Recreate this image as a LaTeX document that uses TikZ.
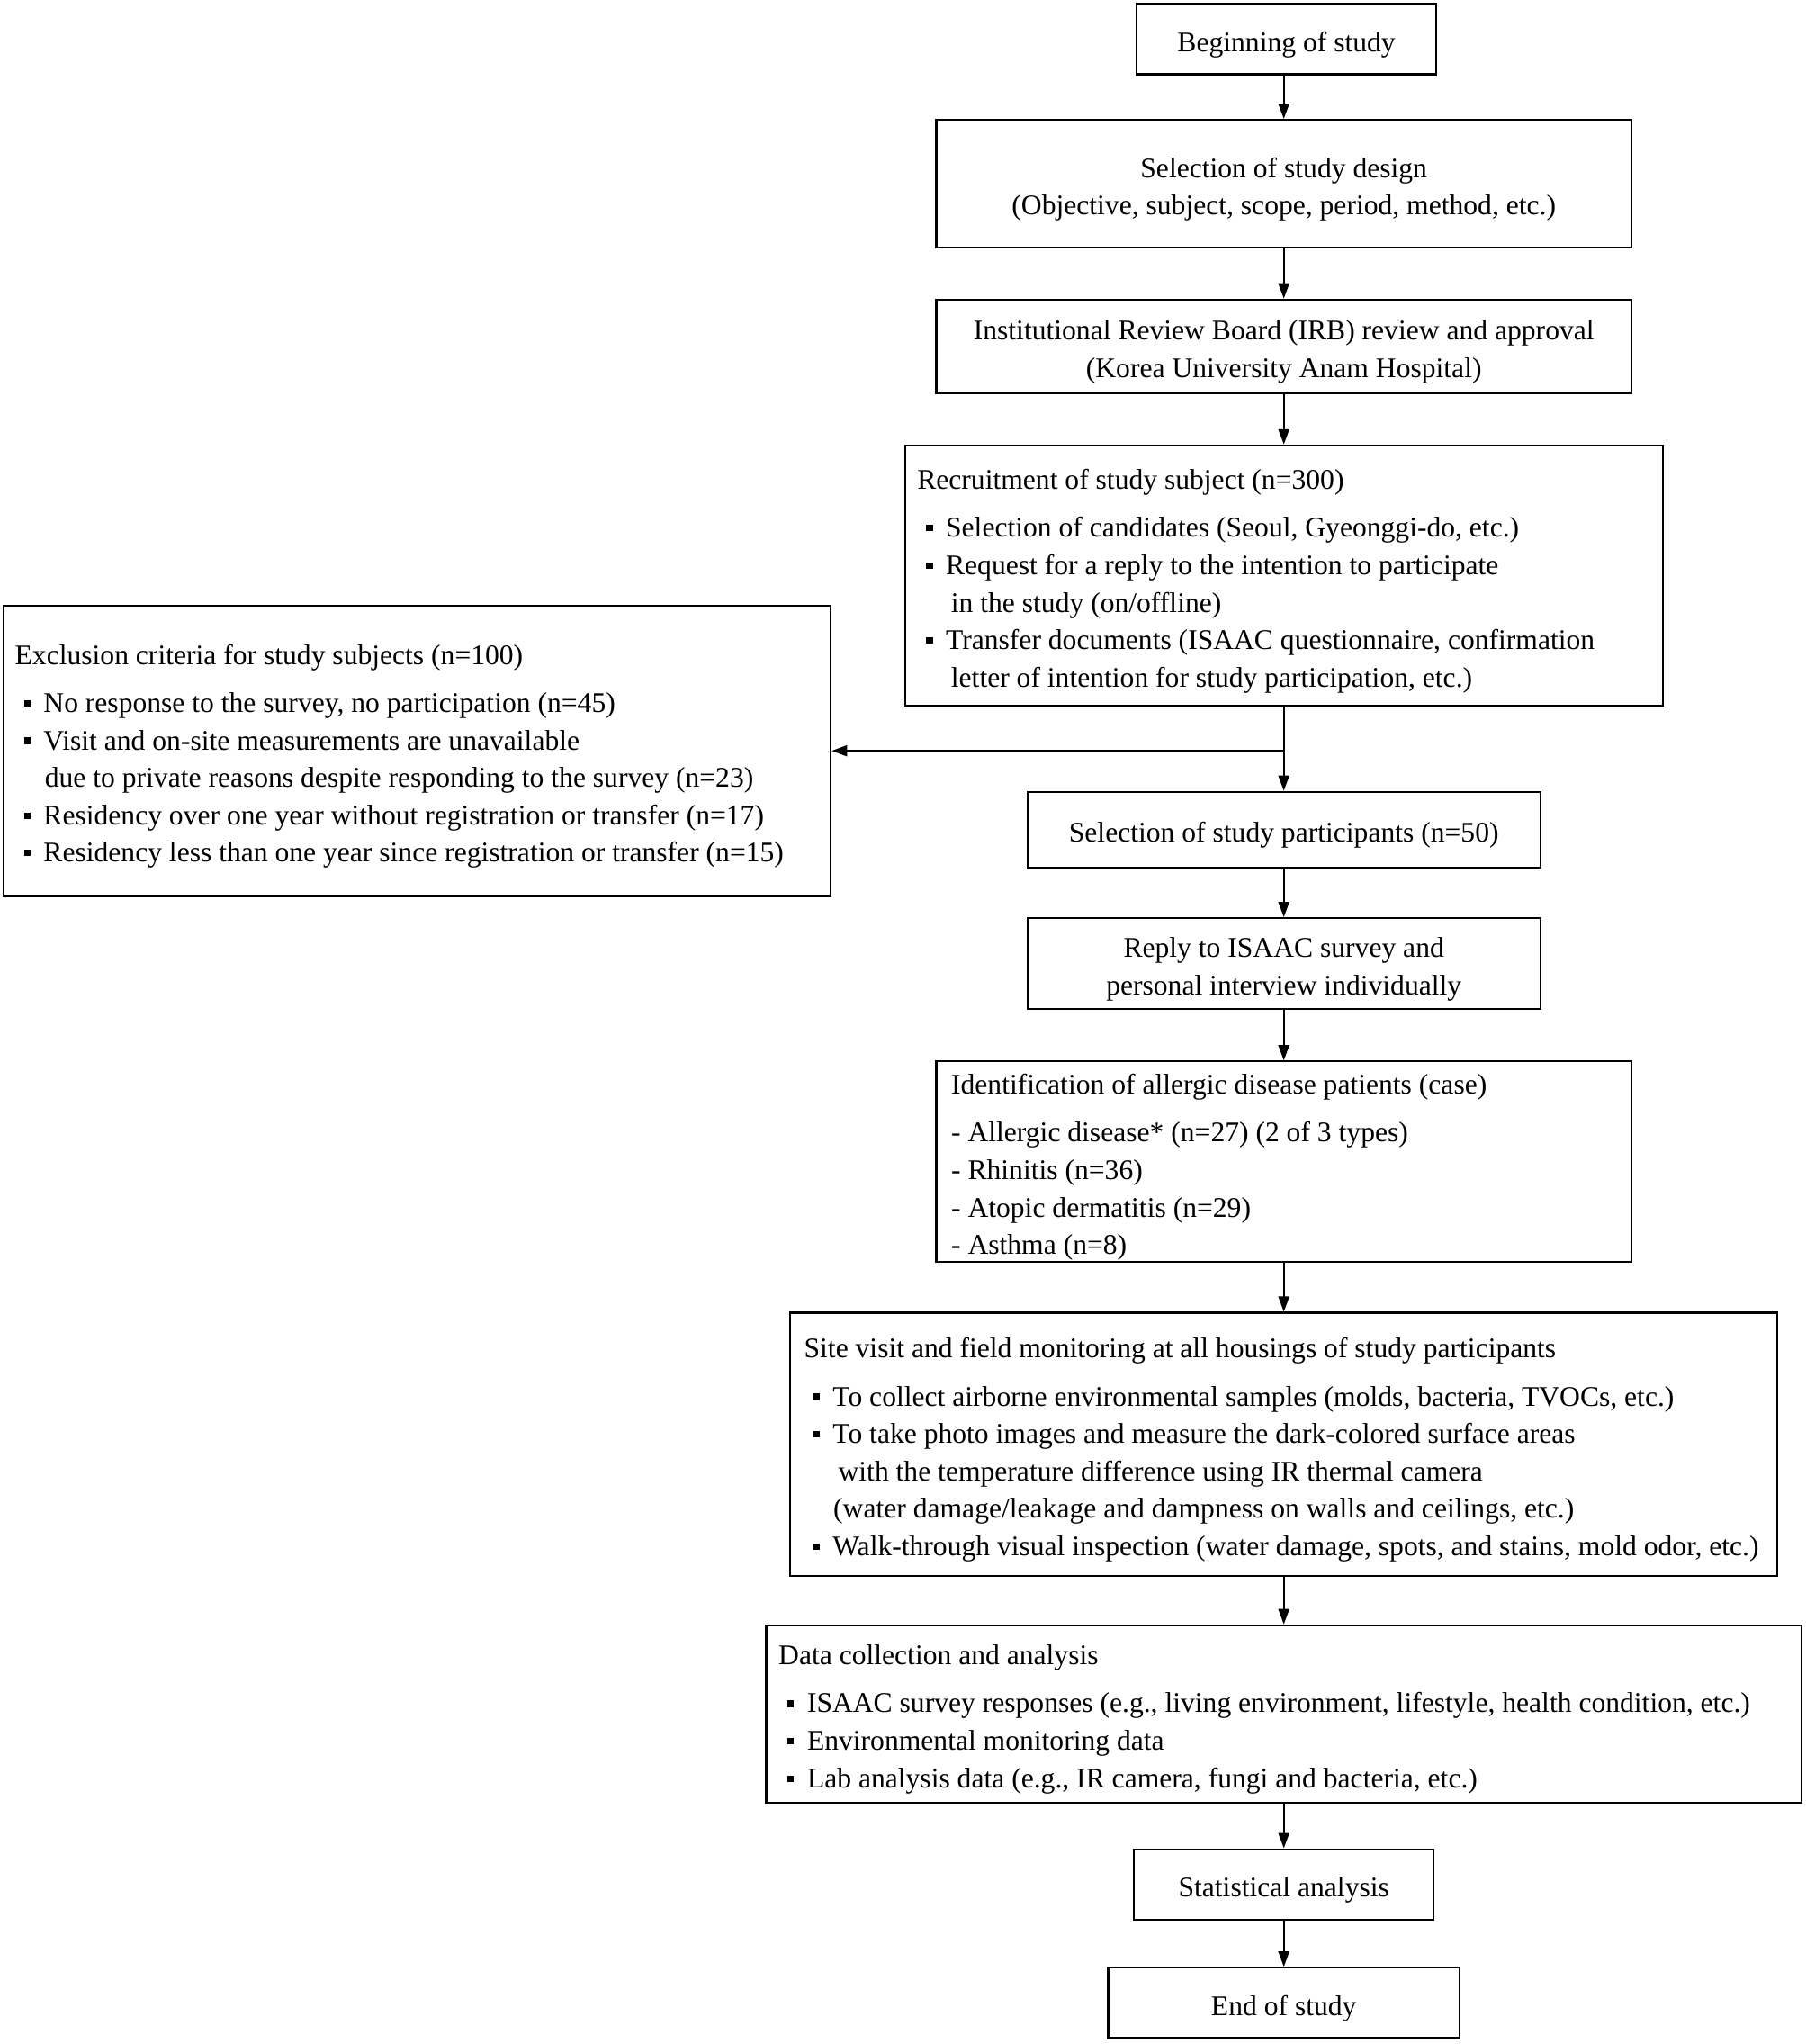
\documentclass[tikz,border=0pt]{standalone}
\usepackage{fontspec}
\setmainfont{Liberation Serif}
\usetikzlibrary{arrows.meta}
\newcommand{\blt}{\hspace*{5pt}\rule[3.2pt]{3.6pt}{3.6pt}\hspace*{7.3pt}}
\newcommand{\cnt}[1]{\hspace*{#1}}
\begin{document}
\begin{tikzpicture}[x=0.7235pt,y=-0.7235pt,
  box/.style={draw, line width=1.1pt, inner sep=0pt},
  ctxt/.style={inner sep=0pt, align=center, yshift=-3.1pt,
    font=\fontsize{15.8}{20.8}\selectfont},
  txt/.style={inner sep=0pt, align=left, anchor=west, yshift=-3.1pt,
    font=\fontsize{15.8}{20.8}\selectfont},
  arr/.style={line width=1.1pt, -{Triangle[length=8.5pt,width=6pt]}}]
\useasboundingbox (0,0) rectangle (1387,1569.5);

\node[box, minimum width=166.4pt, minimum height=39.1pt] (begin) at (988,30) {};
\node[ctxt] (beginT) at (begin.center) {Beginning of study};
\node[box, minimum width=386.3pt, minimum height=70.9pt] (design) at (986,141) {};
\node[ctxt] (designT) at (design.center)
  {Selection of study design\\(Objective, subject, scope, period, method, etc.)};
\node[box, minimum width=386.3pt, minimum height=52.1pt] (irb) at (986,266) {};
\node[ctxt] (irbT) at (irb.center)
  {Institutional Review Board (IRB) review and approval\\(Korea University Anam Hospital)};
\node[box, minimum width=421.1pt, minimum height=144.7pt] (recr) at (986,442) {};
\node[txt] (recrT) at ([xshift=7.2pt]recr.west) {Recruitment of study subject (n=300)\\[5.8pt]
\blt Selection of candidates (Seoul, Gyeonggi-do, etc.)\\
\blt Request for a reply to the intention to participate\\
\cnt{18.8pt}in the study (on/offline)\\
\blt Transfer documents (ISAAC questionnaire, confirmation\\
\cnt{18.8pt}letter of intention for study participation, etc.)};

\node[box, minimum width=459.4pt, minimum height=161.3pt] (excl) at (320.5,576.5) {};
\node[txt] (exclT) at ([xshift=6.5pt]excl.west) {Exclusion criteria for study subjects (n=100)\\[5.8pt]
\blt No response to the survey, no participation (n=45)\\
\blt Visit and on-site measurements are unavailable\\
\cnt{16.6pt}due to private reasons despite responding to the survey (n=23)\\
\blt Residency over one year without registration or transfer (n=17)\\
\blt Residency less than one year since registration or transfer (n=15)};

\node[box, minimum width=285.1pt, minimum height=42pt] (part) at (986,637) {};
\node[ctxt] (partT) at (part.center) {Selection of study participants (n=50)};
\node[box, minimum width=285.1pt, minimum height=50.6pt] (reply) at (986,740) {};
\node[ctxt] (replyT) at (reply.center)
  {Reply to ISAAC survey and\\personal interview individually};

\node[box, minimum width=386.3pt, minimum height=111.4pt] (ident) at (986,892) {};
\node[txt] (identT) at ([xshift=8.7pt]ident.west) {Identification of allergic disease patients (case)\\[5.8pt]
- Allergic disease* (n=27) (2 of 3 types)\\
- Rhinitis (n=36)\\
- Atopic dermatitis (n=29)\\
- Asthma (n=8)};

\node[box, minimum width=548.4pt, minimum height=146.1pt] (site) at (986,1109) {};
\node[txt] (siteT) at ([xshift=8pt]site.west) {Site visit and field monitoring at all housings of study participants\\[5.8pt]
\blt To collect airborne environmental samples (molds, bacteria, TVOCs, etc.)\\
\blt To take photo images and measure the dark-colored surface areas\\
\cnt{19pt}with the temperature difference using IR thermal camera\\
\cnt{16.3pt}(water damage/leakage and dampness on walls and ceilings, etc.)\\
\blt Walk-through visual inspection (water damage, spots, and stains, mold odor, etc.)};

\node[box, minimum width=575.2pt, minimum height=98.4pt] (data) at (986,1316) {};
\node[txt] (dataT) at ([xshift=7.2pt]data.west) {Data collection and analysis\\[5.8pt]
\blt ISAAC survey responses (e.g., living environment, lifestyle, health condition, etc.)\\
\blt Environmental monitoring data\\
\blt Lab analysis data (e.g., IR camera, fungi and bacteria, etc.)};

\node[box, minimum width=166.4pt, minimum height=39.1pt] (stat) at (986,1447) {};
\node[ctxt] (statT) at (stat.center) {Statistical analysis};
\node[box, minimum width=195.3pt, minimum height=39.1pt] (end) at (986,1538) {};
\node[ctxt] (endT) at (end.center) {End of study};

\draw[arr] (begin.south -| design.north) -- (design.north);
\draw[arr] (design) -- (irb);
\draw[arr] (irb) -- (recr);
\draw[arr] (recr) -- (part);
\coordinate (br) at (recr.south |- excl.east);
\draw[arr] (br) -- (excl.east);
\draw[arr] (part) -- (reply);
\draw[arr] (reply) -- (ident);
\draw[arr] (ident) -- (site);
\draw[arr] (site) -- (data);
\draw[arr] (data) -- (stat);
\draw[arr] (stat) -- (end);
\end{tikzpicture}
\end{document}
